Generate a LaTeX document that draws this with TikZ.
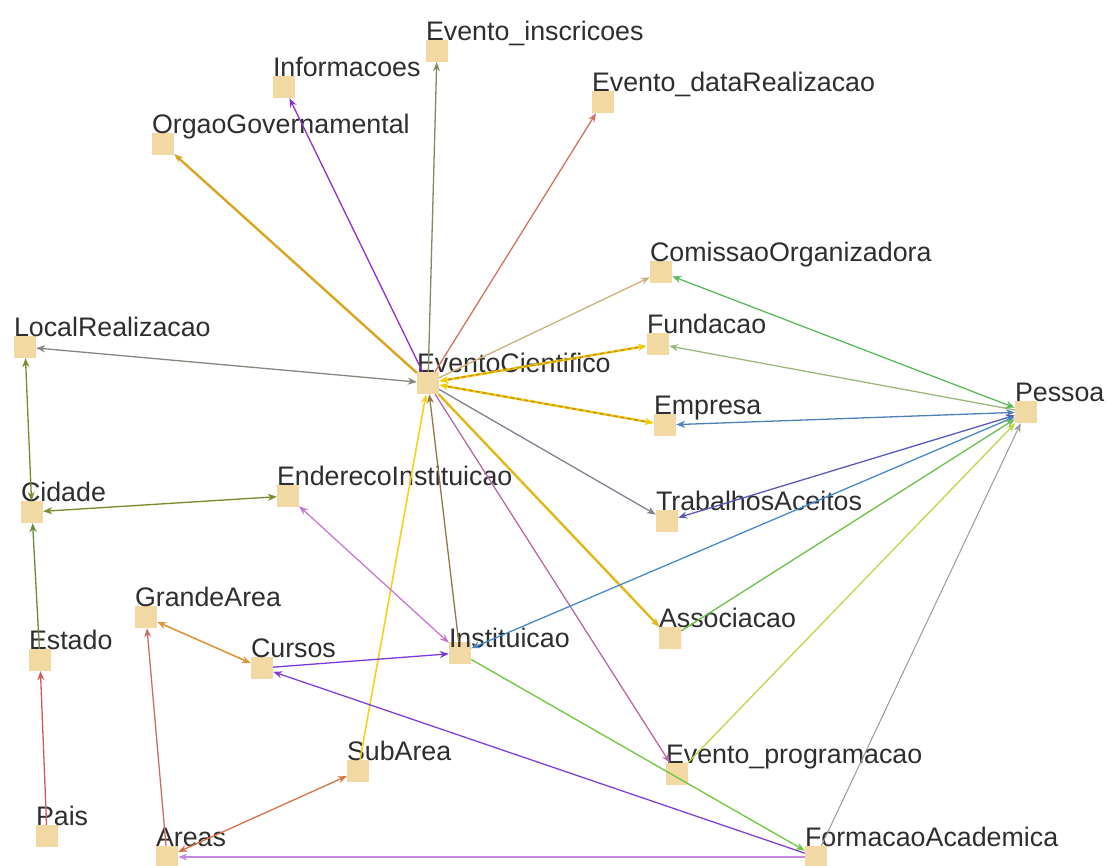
\documentclass[tikz,border=0pt]{standalone}
\usepackage{fontspec}
\setmainfont{Liberation Sans}
\usetikzlibrary{arrows.meta}
\definecolor{boxfill}{RGB}{242,216,162}
\definecolor{cOlive}{RGB}{125,140,90}
\definecolor{cViolet}{RGB}{142,47,208}
\definecolor{cSalmon}{RGB}{213,112,94}
\definecolor{cGold}{RGB}{217,165,32}
\definecolor{cTan}{RGB}{205,178,122}
\definecolor{cGray}{RGB}{135,133,125}
\definecolor{cYellow}{RGB}{240,204,0}
\definecolor{cDash}{RGB}{196,140,48}
\definecolor{cSlate}{RGB}{128,128,144}
\definecolor{cBrown}{RGB}{140,122,69}
\definecolor{cLemon}{RGB}{242,210,26}
\definecolor{cMauve}{RGB}{181,106,168}
\definecolor{cGreen}{RGB}{92,184,92}
\definecolor{cSage}{RGB}{154,184,122}
\definecolor{cSteel}{RGB}{80,128,184}
\definecolor{cIndigo}{RGB}{90,90,184}
\definecolor{cSky}{RGB}{74,136,200}
\definecolor{cLime}{RGB}{108,192,74}
\definecolor{cYelGreen}{RGB}{188,216,74}
\definecolor{cLtGray}{RGB}{154,154,154}
\definecolor{cMoss}{RGB}{122,138,42}
\definecolor{cFern}{RGB}{106,138,58}
\definecolor{cRed}{RGB}{208,90,90}
\definecolor{cOrchid}{RGB}{200,120,208}
\definecolor{cOrange}{RGB}{224,149,58}
\definecolor{cPurple}{RGB}{122,58,224}
\definecolor{cPurple2}{RGB}{128,64,216}
\definecolor{cLilac}{RGB}{197,138,224}
\definecolor{cGreen2}{RGB}{108,200,60}
\definecolor{cRust}{RGB}{200,112,96}
\definecolor{cCoral}{RGB}{216,112,74}
\tikzset{
  entity/.style={rectangle, fill=boxfill, minimum size=22pt, inner sep=0pt},
  lbl/.style={anchor=base west, inner sep=0pt, font=\fontsize{26.8}{30}\selectfont, text=black!82},
  edge/.style={line width=1.3pt, -{Stealth[length=9pt,width=7pt]}},
  biedge/.style={line width=1.3pt, {Stealth[length=9pt,width=7pt]}-{Stealth[length=9pt,width=7pt]}},
  heavy/.style={line width=2.4pt},
  dashover/.style={line width=1.4pt, dash pattern=on 4pt off 3pt, draw=cDash}
}
\begin{document}
\begin{tikzpicture}[x=1pt,y=-1pt]
\useasboundingbox (0,0) rectangle (1111,865);

% entity boxes
\foreach \n/\x/\y in {E/428/383, EvIns/437/51, Info/284/87, EvData/603/102,
  Orgao/163/144, Comissao/661/272, Local/25/347, Fund/658/344, Pessoa/1026/412,
  Empresa/665/425, Cidade/32/512, Ender/288/496, Trab/667/521, Grande/146/617,
  Estado/40/660, Cursos/262/668, Inst/460/653, Assoc/670/638, SubArea/358/771,
  EvProg/677/774, Pais/47/836, Areas/167/857, Formacao/816/857}
  \node[entity] (\n) at (\x,\y) {};

% labels, set on the upper left corner of each box
\foreach \n/\t in {E/EventoCientifico, EvIns/Evento\_inscricoes, Info/Informacoes,
  EvData/Evento\_dataRealizacao, Orgao/OrgaoGovernamental,
  Comissao/ComissaoOrganizadora, Local/LocalRealizacao, Fund/Fundacao,
  Pessoa/Pessoa, Empresa/Empresa, Cidade/Cidade, Ender/EnderecoInstituicao,
  Trab/TrabalhosAceitos, Grande/GrandeArea, Estado/Estado, Cursos/Cursos,
  Assoc/Associacao, SubArea/SubArea,
  EvProg/Evento\_programacao, Pais/Pais, Areas/Areas, Formacao/FormacaoAcademica}
  \node[lbl] (l\n) at ([yshift=-1pt]\n.north west) {\t};
\node[lbl] (lInst) at ([yshift=-6pt]Inst.north west) {Instituicao};

% connectors from EventoCientifico
\draw[edge, cOlive] (E) -- (EvIns);
\draw[edge, cViolet] (E) -- (Info);
\draw[edge, cSalmon] (E) -- (EvData);
\draw[edge, heavy, cGold] (E) -- (Orgao);
\draw[edge, cTan] (E) -- (Comissao);
\draw[biedge, cGray] (E) -- (Local);
\draw[biedge, heavy, cYellow] (E) -- (Fund);
\draw[dashover, shorten <=9pt, shorten >=9pt] (E) -- (Fund);
\draw[biedge, heavy, cYellow] (E) -- (Empresa);
\draw[dashover, shorten <=9pt, shorten >=9pt] (E) -- (Empresa);
\draw[edge, cSlate] (E) -- (Trab);
\draw[edge, heavy, cGold!80!yellow] (E) -- (Assoc);
\draw[edge, cBrown] (Inst) -- (E);
\draw[edge, line width=1.6pt, cLemon] (SubArea) -- (E);
\draw[edge, cMauve] (E) -- (EvProg);

% connectors from Pessoa
\draw[biedge, cGreen] (Pessoa) -- (Comissao);
\draw[edge, cSage] (Pessoa) -- (Fund);
\draw[biedge, cSteel] (Pessoa) -- (Empresa);
\draw[biedge, cIndigo] (Pessoa) -- (Trab);
\draw[biedge, cSky] (Pessoa) -- (Inst);
\draw[edge, cLime] (Assoc) -- (Pessoa);
\draw[edge, cYelGreen] (EvProg) -- (Pessoa);
\draw[edge, line width=1pt, cLtGray] (Formacao) -- (Pessoa);

% places and addresses
\draw[biedge, cMoss] (Cidade) -- (Local);
\draw[biedge, cMoss] (Cidade) -- (Ender);
\draw[edge, cFern] (Estado) -- (Cidade);
\draw[edge, cRed] (Pais) -- (Estado);
\draw[biedge, cOrchid] (Ender) -- (Inst);

% courses and areas
\draw[biedge, line width=1.6pt, cOrange] (Grande) -- (Cursos);
\draw[edge, cPurple] (Cursos) -- (Inst);
\draw[edge, cPurple2] (Formacao) -- (Cursos);
\draw[edge, cLilac] (Formacao) -- (Areas);
\draw[edge, cGreen2] (Inst) -- (Formacao);
\draw[edge, cRust] (Areas) -- (Grande);
\draw[biedge, cCoral] (Areas) -- (SubArea);
\end{tikzpicture}
\end{document}
